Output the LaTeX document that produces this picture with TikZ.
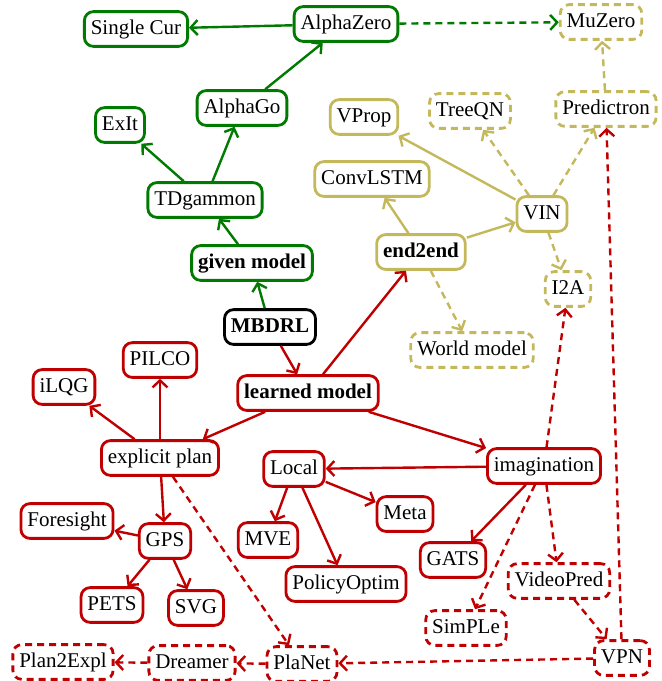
\documentclass[tikz,border=0pt]{standalone}
\usepackage{fontspec}
\setmainfont{Liberation Serif}
\usetikzlibrary{arrows.meta}
\definecolor{mbgreen}{RGB}{0,122,0}
\definecolor{mbred}{RGB}{192,0,0}
\definecolor{mbolive}{RGB}{196,184,92}
\tikzset{box/.style = {draw, rounded corners=4.5pt, line width=1.4pt,
                       inner xsep=3.2pt, inner ysep=4.1pt,
                       text height=1.55ex, text depth=0.45ex,
                       font=\fontsize{10.5}{12}\selectfont}}
\tikzset{gbox/.style = {box, draw=mbgreen}}
\tikzset{rbox/.style = {box, draw=mbred}}
\tikzset{ybox/.style = {box, draw=mbolive}}
\tikzset{dash box/.style = {dash pattern=on 3.5pt off 2.5pt}}
\tikzset{link/.style = {-{Straight Barb[length=3.5pt,width=7.5pt]}, line width=1.2pt}}

\begin{document}
\begin{tikzpicture}[x=0.5pt, y=-0.5pt]
    \useasboundingbox (0, 0) rectangle (662, 681);

    % root
    \node [box, draw=black] (mbdrl) at (270, 327) {\textbf{MBDRL}};

    % given model branch
    \node [gbox] (given) at (252, 263) {\textbf{given model}};
    \node [gbox] (tdgammon) at (205, 200) {TDgammon};
    \node [gbox] (exit) at (120, 125) {ExIt};
    \node [gbox] (alphago) at (242, 108) {AlphaGo};
    \node [gbox] (alphazero) at (346, 24) {AlphaZero};
    \node [gbox] (singlecur) at (136, 29) {Single Cur};

    % end2end branch
    \node [ybox] (end2end) at (421, 252) {\textbf{end2end}};
    \node [ybox] (convlstm) at (372, 179) {ConvLSTM};
    \node [ybox] (vin) at (542, 214) {VIN};
    \node [ybox] (vprop) at (364, 117) {VProp};
    \node [ybox, dash box] (treeqn) at (470, 111) {TreeQN};
    \node [ybox, dash box] (predictron) at (606, 109) {Predictron};
    \node [ybox, dash box] (muzero) at (601, 22) {MuZero};
    \node [ybox, dash box] (i2a) at (568, 289) {I2A};
    \node [ybox, dash box] (world) at (472, 350) {World model};

    % learned model branch
    \node [rbox] (learned) at (308, 393) {\textbf{learned model}};
    \node [rbox] (explicit) at (160, 458) {explicit plan};
    \node [rbox] (pilco) at (160, 360) {PILCO};
    \node [rbox] (ilqg) at (64, 387) {iLQG};
    \node [rbox] (gps) at (165, 541) {GPS};
    \node [rbox] (foresight) at (67, 521) {Foresight};
    \node [rbox] (pets) at (112, 605) {PETS};
    \node [rbox] (svg) at (196, 608) {SVG};
    \node [rbox] (imagination) at (544, 466) {imagination};
    \node [rbox] (local) at (294, 469) {Local};
    \node [rbox] (meta) at (405, 514) {Meta};
    \node [rbox] (mve) at (268, 540) {MVE};
    \node [rbox] (policyoptim) at (346, 584) {PolicyOptim};
    \node [rbox] (gats) at (453, 560) {GATS};
    \node [rbox, dash box] (videopred) at (559, 581) {VideoPred};
    \node [rbox, dash box] (simple) at (466, 628) {SimPLe};
    \node [rbox, dash box] (vpn) at (622, 658) {VPN};
    \node [rbox, dash box] (planet) at (302, 664) {PlaNet};
    \node [rbox, dash box] (dreamer) at (192, 663) {Dreamer};
    \node [rbox, dash box] (plan2expl) at (63, 662) {Plan2Expl};

    % green links
    \draw [link, mbgreen] (mbdrl) -- (given);
    \draw [link, mbgreen] (given) -- (tdgammon);
    \draw [link, mbgreen] (tdgammon) -- (exit);
    \draw [link, mbgreen] (tdgammon) -- (alphago);
    \draw [link, mbgreen] (alphago) -- (alphazero);
    \draw [link, mbgreen] (alphazero) -- (singlecur);
    \draw [link, mbgreen, dash box] (alphazero) -- (muzero);

    % olive links
    \draw [link, mbolive] (end2end) -- (convlstm);
    \draw [link, mbolive] (end2end) -- (vin);
    \draw [link, mbolive] (vin) -- (vprop);
    \draw [link, mbolive, dash box] (vin) -- (treeqn);
    \draw [link, mbolive, dash box] (vin) -- (predictron);
    \draw [link, mbolive, dash box] (vin) -- (i2a);
    \draw [link, mbolive, dash box] (predictron) -- (muzero);
    \draw [link, mbolive, dash box] (end2end) -- (world);

    % red links
    \draw [link, mbred] (mbdrl) -- (learned);
    \draw [link, mbred] (learned) -- (end2end);
    \draw [link, mbred] (learned) -- (explicit);
    \draw [link, mbred] (learned) -- (imagination);
    \draw [link, mbred] (explicit) -- (ilqg);
    \draw [link, mbred] (explicit) -- (pilco);
    \draw [link, mbred] (explicit) -- (gps);
    \draw [link, mbred] (gps) -- (foresight);
    \draw [link, mbred] (gps) -- (pets);
    \draw [link, mbred] (gps) -- (svg);
    \draw [link, mbred] (imagination) -- (local);
    \draw [link, mbred] (local) -- (mve);
    \draw [link, mbred] (local) -- (meta);
    \draw [link, mbred] (local) -- (policyoptim);
    \draw [link, mbred] (imagination) -- (gats);
    \draw [link, mbred, dash box] (explicit) -- (planet);
    \draw [link, mbred, dash box] (imagination) -- (i2a);
    \draw [link, mbred, dash box] (imagination) -- (simple);
    \draw [link, mbred, dash box] (imagination) -- (videopred);
    \draw [link, mbred, dash box] (videopred) -- (vpn);
    \draw [link, mbred, dash box] (vpn) -- (predictron);
    \draw [link, mbred, dash box] (vpn) -- (planet);
    \draw [link, mbred, dash box] (planet) -- (dreamer);
    \draw [link, mbred, dash box] (dreamer) -- (plan2expl);
\end{tikzpicture}
\end{document}
